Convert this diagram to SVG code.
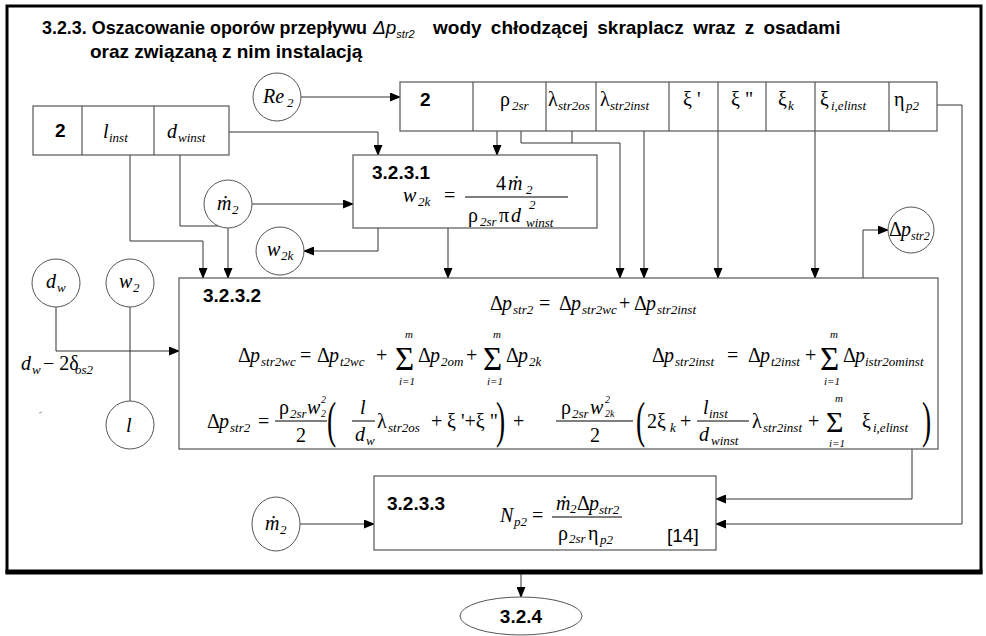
<svg xmlns="http://www.w3.org/2000/svg" width="986" height="636" viewBox="0 0 986 636">
<style>
.ln{fill:none;stroke:#333;stroke-width:1}
.bx{fill:#fff;stroke:#555;stroke-width:1.2}
.ci{fill:#fff;stroke:#555;stroke-width:1}
.fr{fill:none;stroke:#000;stroke-width:1}
.tt{font-family:"Liberation Sans",Arial,sans-serif;font-weight:bold;font-size:19px;fill:#000}
.tv{font-family:"Liberation Sans",Arial,sans-serif;font-style:italic;font-size:19px;fill:#000}
.lb{font-family:"Liberation Sans",Arial,sans-serif;font-weight:bold;font-size:19px;fill:#000}
.m{font-family:"Liberation Serif","DejaVu Serif",serif;font-size:20px;fill:#000}
.i{font-style:italic}
.s{font-size:13px;font-style:italic}
.xs{font-size:10px;font-style:italic}
.lim{font-size:11px;font-style:italic}
.sg{font-size:33px}
.sg3{font-size:30px}
.pr{font-family:"Liberation Serif","DejaVu Serif",serif;font-size:50px;fill:#000}
.ref{font-family:"Liberation Sans",Arial,sans-serif;font-size:19px;fill:#000}
</style>
<defs>
<marker id="ar" markerWidth="11" markerHeight="9" refX="10" refY="4.5" orient="auto" markerUnits="userSpaceOnUse">
<path d="M0,0 L11,4.5 L0,9 Z" fill="#000"/>
</marker>
</defs>
<rect x="0" y="0" width="986" height="636" fill="#fff"/>

<g id="frame">
<rect x="7" y="6" width="974" height="566" fill="none" stroke="#000" stroke-width="3"/>
<line x1="5.5" y1="572" x2="982.5" y2="572" stroke="#000" stroke-width="5"/>
</g>

<g id="title">
<text class="tt" x="42" y="34" textLength="325" lengthAdjust="spacingAndGlyphs">3.2.3. Oszacowanie oporów przepływu</text>
<text class="tv" x="373" y="34">Δp<tspan font-size="11" dy="4">str2</tspan></text>
<text class="tt" x="433" y="34" font-size="19.5" word-spacing="4">wody chłodzącej skraplacz wraz z osadami</text>
<text class="tt" x="90" y="58">oraz związaną z nim instalacją</text>
</g>

<g id="connectors">
<path class="ln" d="M301,97 H400" marker-end="url(#ar)"/>
<path class="ln" d="M229,132 H378 V155" marker-end="url(#ar)"/>
<path class="ln" d="M497,131 V155" marker-end="url(#ar)"/>
<path class="ln" d="M252,204 H353" marker-end="url(#ar)"/>
<path class="ln" d="M378,228 V251 H304" marker-end="url(#ar)"/>
<path class="ln" d="M448,228 V278" marker-end="url(#ar)"/>
<path class="ln" d="M130,155 V241 H203 V278" marker-end="url(#ar)"/>
<path class="ln" d="M180,155 V226 H228 V278" marker-end="url(#ar)"/>
<path class="ln" d="M521,131 V143 H620 V278" marker-end="url(#ar)"/>
<path class="ln" d="M572,131 V143"/>
<path class="ln" d="M644,131 V278" marker-end="url(#ar)"/>
<path class="ln" d="M718,131 V278" marker-end="url(#ar)"/>
<path class="ln" d="M815,131 V278" marker-end="url(#ar)"/>
<path class="ln" d="M863,278 V230 H888" marker-end="url(#ar)"/>
<path class="ln" d="M56,307 V351 H179" marker-end="url(#ar)"/>
<path class="ln" d="M130,307 V401"/>
<path class="ln" d="M912,449 V499 H716" marker-end="url(#ar)"/>
<path class="ln" d="M937,105 H962 V524 H716" marker-end="url(#ar)"/>
<path class="ln" d="M300,524 H374" marker-end="url(#ar)"/>
<path class="ln" d="M521,574 V597" marker-end="url(#ar)"/>
</g>

<g id="table-inst">
<rect class="bx" x="33" y="106" width="196" height="49"/>
<line class="bx" x1="82" y1="106" x2="82" y2="155"/>
<line class="bx" x1="154" y1="106" x2="154" y2="155"/>
<text class="lb" x="55" y="137">2</text>
<text class="m"><tspan class="i" x="103" y="138">l</tspan><tspan class="s" x="109" y="142">inst</tspan></text>
<text class="m"><tspan class="i" x="167" y="138">d</tspan><tspan class="s" x="178" y="142">winst</tspan></text>
</g>

<g id="table-params">
<rect class="bx" x="400" y="82" width="537" height="49"/>
<line class="bx" x1="473" y1="82" x2="473" y2="131"/>
<line class="bx" x1="546" y1="82" x2="546" y2="131"/>
<line class="bx" x1="596" y1="82" x2="596" y2="131"/>
<line class="bx" x1="669" y1="82" x2="669" y2="131"/>
<line class="bx" x1="718" y1="82" x2="718" y2="131"/>
<line class="bx" x1="766" y1="82" x2="766" y2="131"/>
<line class="bx" x1="815" y1="82" x2="815" y2="131"/>
<line class="bx" x1="889" y1="82" x2="889" y2="131"/>
<text class="lb" x="420" y="106">2</text>
<text class="m"><tspan x="500" y="106">ρ</tspan><tspan class="s" x="512" y="110">2sr</tspan></text>
<text class="m"><tspan x="548" y="106">λ</tspan><tspan class="s" x="558" y="110">str2os</tspan></text>
<text class="m"><tspan x="600" y="106">λ</tspan><tspan class="s" x="610" y="110">str2inst</tspan></text>
<text class="m"><tspan x="683" y="106">ξ '</tspan></text>
<text class="m"><tspan x="731" y="106">ξ "</tspan></text>
<text class="m"><tspan x="778" y="106">ξ</tspan><tspan class="s" x="788" y="110">k</tspan></text>
<text class="m"><tspan x="820" y="106">ξ</tspan><tspan class="s" x="831" y="110">i,elinst</tspan></text>
<text class="m"><tspan x="894" y="106">η</tspan><tspan class="s" x="906" y="110">p2</tspan></text>
</g>

<g id="c-re2">
<circle class="ci" cx="277" cy="97" r="24"/>
<text class="m"><tspan class="i" x="263" y="103">Re</tspan><tspan class="s" x="287" y="107">2</tspan></text>
</g>
<g id="c-m2-top">
<circle class="ci" cx="228" cy="204" r="24"/>
<text class="m"><tspan class="i" x="217" y="210">ṁ</tspan><tspan class="s" x="232" y="214">2</tspan></text>
</g>
<g id="c-w2k">
<circle class="ci" cx="280" cy="251" r="24"/>
<text class="m"><tspan class="i" x="267" y="256">w</tspan><tspan class="s" x="281" y="260">2k</tspan></text>
</g>
<g id="c-dw">
<circle class="ci" cx="56" cy="283" r="24"/>
<text class="m"><tspan class="i" x="46" y="288">d</tspan><tspan class="s" x="57" y="292">w</tspan></text>
</g>
<g id="c-w2">
<circle class="ci" cx="130" cy="283" r="24"/>
<text class="m"><tspan class="i" x="119" y="288">w</tspan><tspan class="s" x="133" y="292">2</tspan></text>
</g>
<g id="c-l">
<circle class="ci" cx="130" cy="425" r="24"/>
<text class="m"><tspan class="i" x="126" y="432">l</tspan></text>
</g>
<g id="c-dpstr2">
<circle class="ci" cx="911" cy="230" r="23"/>
<text class="m"><tspan x="889" y="236">Δ</tspan><tspan class="i" x="901" y="236">p</tspan><tspan font-size="12" font-style="italic" x="911" y="240">str2</tspan></text>
</g>
<g id="c-m2-bottom">
<ellipse class="ci" cx="276" cy="524" rx="24" ry="27"/>
<text class="m"><tspan class="i" x="265" y="530">ṁ</tspan><tspan class="s" x="280" y="534">2</tspan></text>
</g>

<g id="label-dw">
<text class="m"><tspan class="i" x="21" y="370">d</tspan><tspan class="s" x="32" y="374">w</tspan><tspan x="43" y="370">− 2δ</tspan><tspan class="s" x="75" y="374">os2</tspan></text>
<line x1="39" y1="413" x2="42" y2="412" stroke="#999" stroke-width="1"/>
</g>

<g id="box-3231">
<rect class="bx" x="353" y="155" width="244" height="73"/>
<text class="lb" x="372" y="179">3.2.3.1</text>
<text class="m">
<tspan class="i" x="403" y="202">w</tspan><tspan class="s" x="418" y="206">2k</tspan>
<tspan x="444" y="202">=</tspan>
<tspan x="496" y="190">4</tspan><tspan class="i" x="508" y="190">ṁ</tspan><tspan class="s" x="526" y="194">2</tspan>
<tspan x="468" y="222">ρ</tspan><tspan class="s" x="480" y="226">2sr</tspan><tspan x="499" y="222">π</tspan><tspan class="i" x="511" y="222">d</tspan><tspan class="s" x="529" y="209">2</tspan><tspan class="s" x="526" y="227">winst</tspan>
</text>
<line class="fr" x1="465" y1="197" x2="568" y2="197"/>
</g>

<g id="box-3232">
<rect class="bx" x="179" y="278" width="759" height="171"/>
<text class="lb" x="203" y="302">3.2.3.2</text>
<text class="m">
<tspan x="490" y="310">Δ</tspan><tspan class="i" x="502" y="310">p</tspan><tspan class="s" x="513" y="314">str2</tspan>
<tspan x="539" y="310">=</tspan>
<tspan x="559" y="310">Δ</tspan><tspan class="i" x="571" y="310">p</tspan><tspan class="s" x="582" y="314">str2wc</tspan>
<tspan x="619" y="310">+</tspan>
<tspan x="634" y="310">Δ</tspan><tspan class="i" x="646" y="310">p</tspan><tspan class="s" x="657" y="314">str2inst</tspan>
</text>
<text class="m">
<tspan x="238" y="362">Δ</tspan><tspan class="i" x="250" y="362">p</tspan><tspan class="s" x="261" y="366">str2wc</tspan>
<tspan x="300" y="362">=</tspan>
<tspan x="317" y="362">Δ</tspan><tspan class="i" x="329" y="362">p</tspan><tspan class="s" x="340" y="366">t2wc</tspan>
<tspan x="376" y="362">+</tspan>
<tspan class="sg" x="395" y="370">Σ</tspan>
<tspan class="lim" x="405" y="338">m</tspan><tspan class="lim" x="399" y="385">i=1</tspan>
<tspan x="418" y="362">Δ</tspan><tspan class="i" x="430" y="362">p</tspan><tspan class="s" x="441" y="366">2om</tspan>
<tspan x="466" y="362">+</tspan>
<tspan class="sg" x="483" y="370">Σ</tspan>
<tspan class="lim" x="493" y="338">m</tspan><tspan class="lim" x="487" y="385">i=1</tspan>
<tspan x="506" y="362">Δ</tspan><tspan class="i" x="518" y="362">p</tspan><tspan class="s" x="529" y="366">2k</tspan>
</text>
<text class="m">
<tspan x="652" y="362">Δ</tspan><tspan class="i" x="664" y="362">p</tspan><tspan class="s" x="675" y="366">str2inst</tspan>
<tspan x="727" y="362">=</tspan>
<tspan x="748" y="362">Δ</tspan><tspan class="i" x="760" y="362">p</tspan><tspan class="s" x="771" y="366">t2inst</tspan>
<tspan x="805" y="362">+</tspan>
<tspan class="sg" x="820" y="370">Σ</tspan>
<tspan class="lim" x="830" y="338">m</tspan><tspan class="lim" x="824" y="385">i=1</tspan>
<tspan x="843" y="362">Δ</tspan><tspan class="i" x="855" y="362">p</tspan><tspan class="s" x="865" y="366">istr2ominst</tspan>
</text>
<text class="m">
<tspan x="207" y="428">Δ</tspan><tspan class="i" x="219" y="428">p</tspan><tspan class="s" x="230" y="432">str2</tspan>
<tspan x="258" y="428">=</tspan>
<tspan x="279" y="414">ρ</tspan><tspan class="s" x="290" y="418">2sr</tspan><tspan class="i" x="307" y="414">w</tspan><tspan class="xs" x="321" y="403">2</tspan><tspan class="xs" x="321" y="417">2</tspan>
<tspan x="296" y="442">2</tspan>
<tspan class="i" x="360" y="414">l</tspan>
<tspan class="i" x="355" y="441">d</tspan><tspan class="s" x="366" y="445">w</tspan>
<tspan x="377" y="428">λ</tspan><tspan class="s" x="388" y="432">str2os</tspan>
<tspan x="431" y="428">+</tspan>
<tspan x="447" y="428">ξ '+ξ "</tspan>
<tspan x="513" y="428">+</tspan>
<tspan x="561" y="414">ρ</tspan><tspan class="s" x="572" y="418">2sr</tspan><tspan class="i" x="590" y="414">w</tspan><tspan class="xs" x="605" y="403">2</tspan><tspan class="xs" x="605" y="417">2k</tspan>
<tspan x="590" y="442">2</tspan>
<tspan x="647" y="428">2ξ</tspan><tspan class="s" x="670" y="432">k</tspan>
<tspan x="680" y="428">+</tspan>
<tspan class="i" x="703" y="414">l</tspan><tspan class="s" x="709" y="418">inst</tspan>
<tspan class="i" x="699" y="441">d</tspan><tspan class="s" x="711" y="445">winst</tspan>
<tspan x="752" y="428">λ</tspan><tspan class="s" x="763" y="432">str2inst</tspan>
<tspan x="808" y="428">+</tspan>
<tspan class="sg3" x="826" y="432">Σ</tspan>
<tspan class="lim" x="835" y="402">m</tspan><tspan class="lim" x="829" y="447">i=1</tspan>
<tspan x="862" y="428">ξ</tspan><tspan class="s" x="873" y="432">i,elinst</tspan>
</text>
<line class="fr" x1="275" y1="421" x2="327" y2="421"/>
<line class="fr" x1="352" y1="421" x2="375" y2="421"/>
<line class="fr" x1="556" y1="421" x2="633" y2="421"/>
<line class="fr" x1="697" y1="421" x2="749" y2="421"/>
<text class="pr" transform="translate(327,437) scale(0.55,1)">(</text>
<text class="pr" transform="translate(496,437) scale(0.55,1)">)</text>
<text class="pr" transform="translate(636,437) scale(0.55,1)">(</text>
<text class="pr" transform="translate(922,437) scale(0.55,1)">)</text>
</g>

<g id="box-3233">
<rect class="bx" x="374" y="476" width="342" height="74"/>
<text class="lb" x="387" y="510">3.2.3.3</text>
<text class="m">
<tspan class="i" x="500" y="522">N</tspan><tspan class="s" x="514" y="526">p2</tspan>
<tspan x="532" y="522">=</tspan>
<tspan class="i" x="556" y="510">ṁ</tspan><tspan class="s" x="570" y="513">2</tspan><tspan x="577" y="510">Δ</tspan><tspan class="i" x="589" y="510">p</tspan><tspan class="s" x="599" y="514">str2</tspan>
<tspan x="558" y="540">ρ</tspan><tspan class="s" x="569" y="543">2sr</tspan><tspan x="588" y="540">η</tspan><tspan class="s" x="600" y="544">p2</tspan>
</text>
<line class="fr" x1="552" y1="517" x2="622" y2="517"/>
<text class="ref" x="667" y="542">[14]</text>
</g>

<g id="node-324">
<ellipse class="ci" cx="521" cy="616" rx="61" ry="19"/>
<text class="lb" x="521" y="623" text-anchor="middle">3.2.4</text>
</g>
</svg>
